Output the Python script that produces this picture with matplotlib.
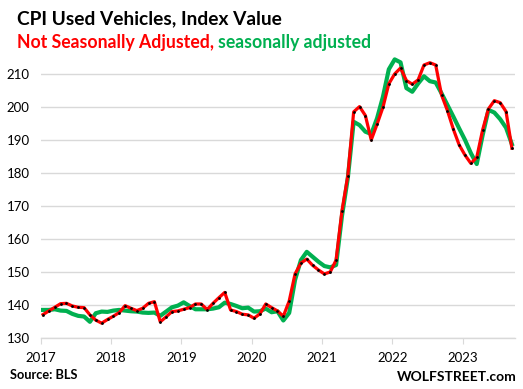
import numpy as np
import matplotlib
matplotlib.use("Agg")
import matplotlib.pyplot as plt

# monthly CPI used vehicles, Jan 2017 .. Sep 2023
nsa = [137.2, 138.3, 139.4, 140.5, 140.6, 139.8, 139.4, 139.3, 137.1, 135.5, 134.6, 135.7,
       136.7, 137.8, 139.9, 139.1, 138.4, 139.1, 140.6, 141.1, 135.0, 136.5, 138.1, 138.3,
       138.8, 139.3, 140.4, 140.4, 138.7, 140.6, 142.3, 143.9, 138.6, 138.1, 137.3, 137.1,
       136.1, 137.4, 140.4, 139.3, 138.3, 136.7, 141.3, 149.5, 152.8, 154.0, 152.1, 150.7,
       149.5, 150.1, 153.7, 168.6, 179.2, 198.6, 200.2, 197.5, 190.1, 194.9, 200.0, 207.1,
       210.1, 211.9, 208.1, 207.0, 208.3, 212.8, 213.5, 212.8, 203.7, 199.0, 193.4, 188.6,
       185.5, 183.0, 184.8, 193.1, 199.5, 202.0, 201.4, 198.7, 187.6]
sa = [138.6, 138.6, 138.8, 138.4, 138.3, 137.4, 136.8, 136.6, 135.0, 137.6, 138.1, 138.0,
      138.4, 138.6, 138.4, 138.2, 138.1, 137.8, 137.7, 137.8, 136.8, 138.1, 139.4, 139.9,
      140.9, 139.8, 138.8, 138.8, 138.8, 139.0, 139.4, 140.8, 140.4, 139.8, 139.1, 139.3,
      138.1, 138.2, 139.0, 137.9, 138.2, 135.4, 137.7, 147.7, 153.7, 156.2, 154.7, 153.2,
      151.9, 151.5, 152.2, 167.0, 178.5, 195.6, 194.6, 192.6, 191.9, 196.7, 203.2, 211.5,
      214.5, 213.6, 205.8, 204.7, 207.2, 209.4, 207.9, 207.5, 204.2, 200.7, 197.2, 193.6,
      190.1, 186.1, 182.8, 191.5, 199.2, 198.4, 196.4, 193.8, 188.8]
years = ["2017", "2018", "2019", "2020", "2021", "2022", "2023"]
yticks = [130, 140, 150, 160, 170, 180, 190, 200, 210]

FONT = "Lato"
RED = "#FF0000"
GREEN = "#00B050"

x = np.arange(len(nsa)) + 0.4

fig = plt.figure(figsize=(5.23, 3.89), dpi=100)
ax = fig.add_axes([0.0778, 0.1303, 0.9077, 0.7297])

ax.plot(x, sa, color=GREEN, lw=3.0, solid_joinstyle="round", zorder=2)
ax.plot(x, nsa, color=RED, lw=2.3, solid_joinstyle="round", zorder=3)
ax.plot(x, nsa, "o", color="black", ms=2.0, mew=0, zorder=4)

ax.set_xlim(0, 81)
ax.set_ylim(130, 216)
ax.set_yticks(yticks)
ax.set_xticks(np.arange(len(years)) * 12)
ax.set_xticklabels(years)
ax.grid(axis="y", color="#D9D9D9", lw=1.0)
ax.set_axisbelow(True)
for s in ["top", "right", "left"]:
    ax.spines[s].set_visible(False)
ax.spines["bottom"].set_color("#D9D9D9")
ax.spines["bottom"].set_linewidth(1.0)
ax.tick_params(axis="x", length=4, color="#D9D9D9", pad=6, labelsize=9.5)
ax.tick_params(axis="y", length=0, pad=8, labelsize=9.5)
for lab in ax.get_xticklabels() + ax.get_yticklabels():
    lab.set_fontfamily(FONT)

fig.text(0.032, 0.953, "CPI Used Vehicles, Index Value", fontsize=13.8,
         fontweight="bold", family=FONT, va="center")
t1 = fig.text(0.032, 0.892, "Not Seasonally Adjusted, ", fontsize=12.7,
              fontweight="bold", family=FONT, color=RED, va="center")
fig.canvas.draw()
bb = t1.get_window_extent().transformed(fig.transFigure.inverted())
fig.text(bb.x1, 0.892, "seasonally adjusted", fontsize=12.7,
         fontweight="bold", family=FONT, color=GREEN, va="center")

fig.text(0.019, 0.036, "Source: BLS", fontsize=9.2, fontweight="bold",
         family=FONT, va="center")
fig.text(0.988, 0.032, "WOLFSTREET.com", fontsize=10, fontweight="bold",
         family=FONT, va="center", ha="right")

fig.savefig("out.png", dpi=100)
